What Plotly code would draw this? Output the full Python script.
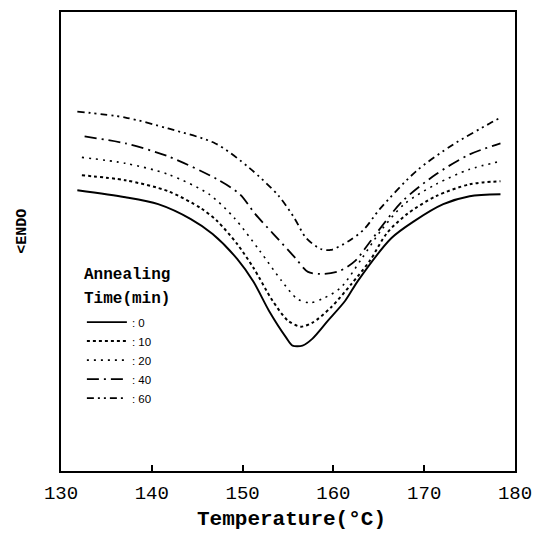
import plotly.graph_objects as go

# Temperature (°C) and heat-flow (arbitrary units, endo down)
t_0 = [131.8, 137.1, 140.7, 144.3, 146.7, 149.4, 151.2, 152.9, 154.8, 155.5, 156.6, 157.7, 159.4, 161.3, 162.7, 166.4, 168.9, 172.1, 175.0, 178.4]
y_0 = [282, 275, 268, 253, 238, 213, 190, 161, 134, 126, 126, 133, 151, 171, 191, 234, 251, 268, 276, 278]

t_10 = [132.3, 137.1, 141.8, 145.4, 147.2, 149.4, 151.2, 153.3, 155.0, 156.4, 157.7, 159.7, 162.0, 164.0, 165.9, 168.1, 171.3, 175.0, 178.4]
y_10 = [297, 292, 281, 264, 251, 228, 204, 171, 151, 145, 149, 164, 188, 211, 239, 258, 276, 288, 291]

t_20 = [132.3, 137.1, 141.8, 146.3, 149.1, 151.9, 154.3, 156.0, 157.4, 158.8, 160.8, 163.1, 165.2, 167.8, 171.3, 175.0, 178.4]
y_20 = [315, 309, 298, 278, 254, 221, 191, 173, 169, 173, 184, 213, 241, 268, 288, 303, 311]

t_40 = [132.6, 137.1, 141.8, 147.2, 149.7, 151.4, 153.4, 155.8, 157.2, 158.9, 160.7, 162.4, 164.1, 167.6, 171.3, 175.0, 178.4]
y_40 = [336, 329, 316, 293, 278, 258, 238, 214, 200, 198, 201, 211, 231, 271, 298, 318, 329]

t_60 = [131.8, 137.1, 141.8, 147.0, 150.8, 154.0, 155.7, 157.0, 158.6, 159.7, 161.7, 163.4, 165.1, 169.1, 173.2, 177.2, 178.4]
y_60 = [361, 355, 344, 329, 304, 276, 254, 234, 223, 222, 231, 243, 263, 301, 328, 349, 355]

series = [
    (": 0", t_0, y_0, "solid", 1.9),
    (": 10", t_10, y_10, "dot", 2.0),
    (": 20", t_20, y_20, "2px,5px", 1.6),
    (": 40", t_40, y_40, "12px,5px,2px,5px", 1.8),
    (": 60", t_60, y_60, "7px,4px,2px,4px,2px,4px", 1.8),
]

x_ticks = [130, 140, 150, 160, 170, 180]

fig = go.Figure()
for name, xs, ys, dash, w in series:
    fig.add_trace(go.Scatter(x=xs, y=ys, mode="lines", name=name,
                             line=dict(color="black", width=w, dash=dash, shape="spline", smoothing=0.8)))

mono = "Liberation Mono"
fig.update_layout(
    width=542, height=538,
    margin=dict(l=61, r=26, t=10, b=67),
    paper_bgcolor="white", plot_bgcolor="white",
    showlegend=True,
    legend=dict(
        x=0.046, y=0.356, xanchor="left", yanchor="top",
        bgcolor="rgba(0,0,0,0)",
        font=dict(family="Liberation Sans", size=11.5, color="black"),
        tracegroupgap=0, itemwidth=40,
    ),
    xaxis=dict(range=[130, 180], tickvals=x_ticks, ticktext=[str(v) for v in x_ticks],
               ticks="inside", ticklen=6, tickwidth=1.5, tickcolor="black",
               showline=True, linecolor="black", linewidth=2, mirror=True,
               showgrid=False, zeroline=False,
               tickfont=dict(family=mono, size=19, color="black"), ticklabelstandoff=3),
    yaxis=dict(range=[0, 461], showticklabels=False, ticks="",
               showline=True, linecolor="black", linewidth=2, mirror=True,
               showgrid=False, zeroline=False),
    annotations=[
        dict(text="<b>Temperature(°C)</b>", xref="paper", yref="paper", x=0.508, y=-0.106,
             xanchor="center", yanchor="middle", showarrow=False,
             font=dict(family=mono, size=21, color="black")),
        dict(text="<b>&lt;ENDO</b>", xref="paper", yref="paper", x=-0.084, y=0.523,
             xanchor="center", yanchor="middle", showarrow=False, textangle=-90,
             font=dict(family=mono, size=15, color="black")),
        dict(text="<b>Annealing</b>", xref="paper", yref="paper", x=0.046, y=0.428,
             xanchor="left", yanchor="middle", showarrow=False,
             font=dict(family=mono, size=16, color="black")),
        dict(text="<b>Time(min)</b>", xref="paper", yref="paper", x=0.046, y=0.374,
             xanchor="left", yanchor="middle", showarrow=False,
             font=dict(family=mono, size=16, color="black")),
    ],
)

fig.write_html("out.html", config={"displayModeBar": False},
               post_script="document.body.style.margin='0';document.body.style.overflow='hidden';")
